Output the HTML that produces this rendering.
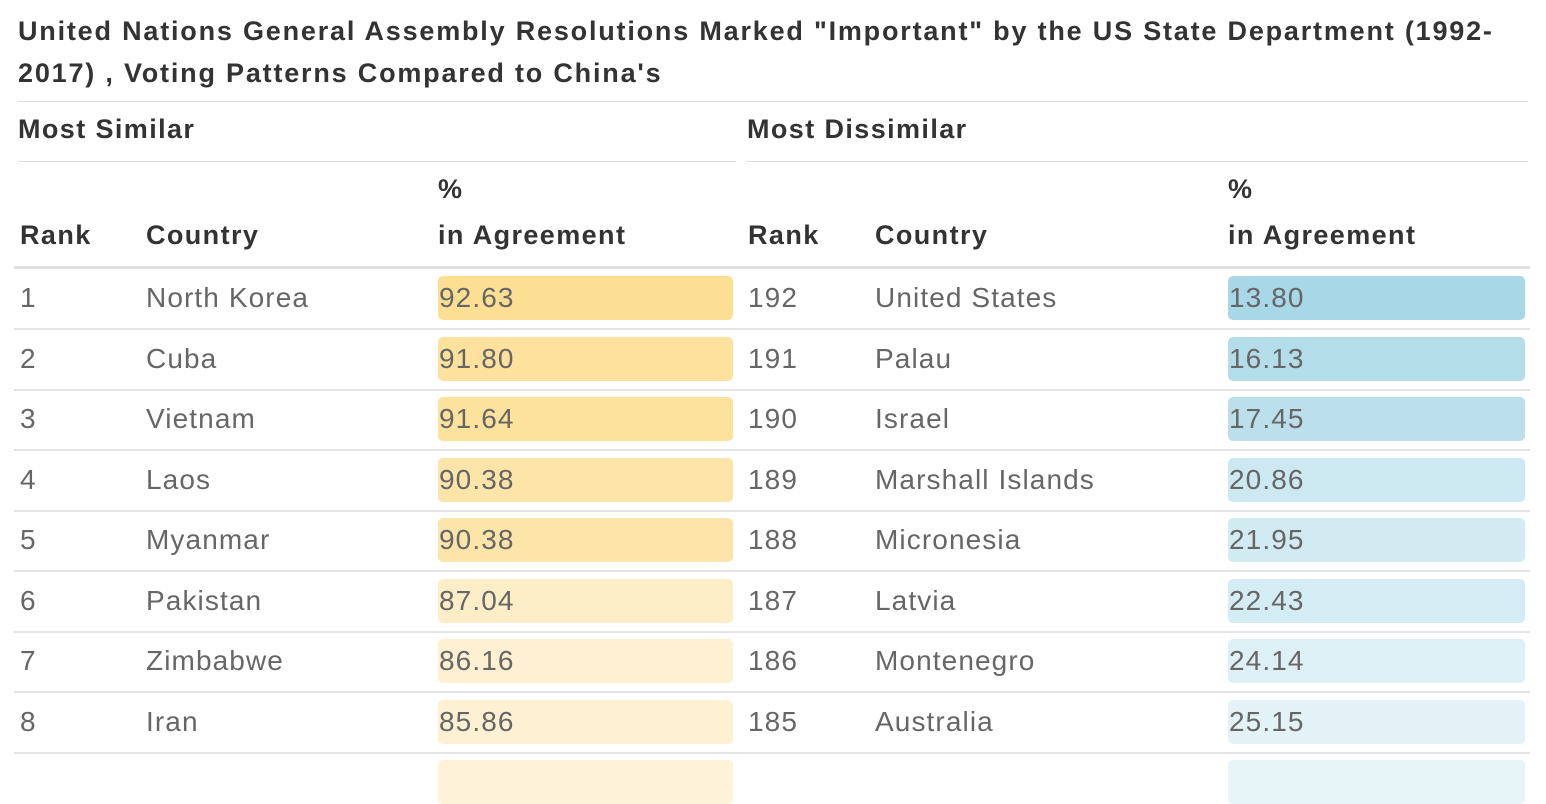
<!DOCTYPE html>
<html><head><meta charset="utf-8"><style>
body{margin:0;width:1546px;height:764px;overflow:hidden;background:#fff;font-family:"Liberation Sans",sans-serif;position:relative}
.a{position:absolute;white-space:nowrap}
.t{font-weight:bold;color:#333;font-size:27px;letter-spacing:1.8px}
.h{font-weight:bold;color:#333;font-size:27px;letter-spacing:1.4px}
.c{color:#666;font-size:28px;line-height:44px;letter-spacing:1.1px}
.ln{position:absolute;height:1px;background:#ddd}
.bar{position:absolute;border-radius:5px;height:44px}
</style></head><body>
<div class="a t" style="left:18px;top:10px;line-height:42px">United Nations General Assembly Resolutions Marked "Important" by the US State Department (1992-<br>2017) , Voting Patterns Compared to China's</div>
<div class="ln" style="left:18px;top:101px;width:1510px"></div>
<div class="a h" style="left:18px;top:114px">Most Similar</div>
<div class="a h" style="left:747px;top:114px">Most Dissimilar</div>
<div class="ln" style="left:18px;top:161px;width:718px"></div>
<div class="ln" style="left:746px;top:161px;width:782px"></div>
<div class="a h" style="left:20px;top:220px">Rank</div>
<div class="a h" style="left:146px;top:220px">Country</div>
<div class="a h" style="left:438px;top:166px;line-height:46px">%<br>in Agreement</div>
<div class="a h" style="left:748px;top:220px">Rank</div>
<div class="a h" style="left:875px;top:220px">Country</div>
<div class="a h" style="left:1228px;top:166px;line-height:46px">%<br>in Agreement</div>
<div class="ln" style="left:14px;top:266px;width:1516px;height:3px;background:#e0e0e0"></div>
<div id="rows"></div>
<script>
const simRanks=[1,2,3,4,5,6,7,8];
const simCountries=["North Korea","Cuba","Vietnam","Laos","Myanmar","Pakistan","Zimbabwe","Iran"];
const simValues=[92.63,91.80,91.64,90.38,90.38,87.04,86.16,85.86];
const disRanks=[192,191,190,189,188,187,186,185];
const disCountries=["United States","Palau","Israel","Marshall Islands","Micronesia","Latvia","Montenegro","Australia"];
const disValues=[13.80,16.13,17.45,20.86,21.95,22.43,24.14,25.15];
const root=document.getElementById('rows');
function mix(a,b,t){return 'rgb('+a.map((v,i)=>Math.round(v+(b[i]-v)*t)).join(',')+')';}
function yRow(i){return 276+i*60.5;}
function simColor(v){const t=Math.max(0,Math.min(1,(92.63-v)/(92.63-85.86)));return mix([253,223,148],[254,241,211],t);}
function disColor(v){const t=Math.max(0,Math.min(1,(v-13.8)/(25.15-13.8)));return mix([168,216,231],[226,242,247],t);}
function add(cls,style,text,name){const d=document.createElement('div');d.className=cls;d.style.cssText=style;if(text!==null)d.textContent=text;


root.appendChild(d);return d;}
for(let i=0;i<simRanks.length;i++){
 const y=yRow(i);
 add('bar',`left:438px;top:${y}px;width:295px;background:${simColor(simValues[i])}`,null,'similar-bar-'+(i+1));
 add('bar',`left:1228px;top:${y}px;width:297px;background:${disColor(disValues[i])}`,null,'dissimilar-bar-'+(i+1));
 add('a c',`left:20px;top:${y}px`,simRanks[i],'similar-rank-'+(i+1));
 add('a c',`left:146px;top:${y}px`,simCountries[i],'similar-country-'+(i+1));
 add('a c',`left:439px;top:${y}px`,simValues[i].toFixed(2),'similar-value-'+(i+1));
 add('a c',`left:748px;top:${y}px`,disRanks[i],'dissimilar-rank-'+(i+1));
 add('a c',`left:875px;top:${y}px`,disCountries[i],'dissimilar-country-'+(i+1));
 add('a c',`left:1229px;top:${y}px`,disValues[i].toFixed(2),'dissimilar-value-'+(i+1));
 add('ln',`left:14px;top:${y+52}px;width:1516px;height:2px;background:#e4e4e4`,null,'row-rule-'+(i+1));
}
const y9=yRow(8);
add('bar',`left:438px;top:${y9}px;width:295px;background:#fef3d8`,null,'similar-bar-9');
add('bar',`left:1228px;top:${y9}px;width:297px;background:#e6f4f8`,null,'dissimilar-bar-9');
</script>
</body></html>
